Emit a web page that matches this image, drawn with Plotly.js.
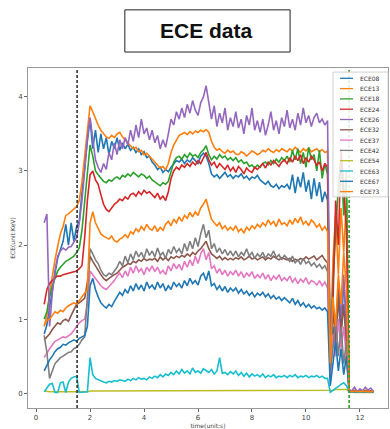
<!DOCTYPE html>
<html><head><meta charset="utf-8">
<script src="https://cdn.plot.ly/plotly-3.0.1.min.js"></script>
<style>html,body{margin:0;padding:0;background:#fff;} #chart{width:390px;height:429px;}</style>
</head><body><div id="chart"></div>
<script>
const time = [0.3,0.4,0.5,0.6,0.7,0.8,0.9,1.0,1.1,1.2,
1.3,1.4,1.5,1.6,1.7,1.8,1.9,2.0,2.1,2.2,
2.3,2.4,2.5,2.6,2.7,2.8,2.9,3.0,3.1,3.2,
3.3,3.4,3.5,3.6,3.7,3.8,3.9,4.0,4.1,4.2,
4.3,4.4,4.5,4.6,4.7,4.8,4.9,5.0,5.1,5.2,
5.3,5.4,5.5,5.6,5.7,5.8,5.9,6.0,6.1,6.2,
6.3,6.4,6.5,6.6,6.7,6.8,6.9,7.0,7.1,7.2,
7.3,7.4,7.5,7.6,7.7,7.8,7.9,8.0,8.1,8.2,
8.3,8.4,8.5,8.6,8.7,8.8,8.9,9.0,9.1,9.2,
9.3,9.4,9.5,9.6,9.7,9.8,9.9,10.0,10.1,10.2,
10.3,10.4,10.5,10.6,10.7,10.8,10.9,11.0,11.1,11.2,
11.3,11.4,11.5,11.6,11.7,11.8,11.9,12.0,12.1,12.2,
12.3,12.4,12.5];

const ECE08 = [0.8,0.92,1.15,1.4,1.62,1.82,1.95,2.05,2.28,2.0,
2.3,2.05,2.25,2.32,2.7,3.1,3.4,3.7,3.3,3.55,
3.25,3.5,3.3,3.45,3.22,3.4,3.3,3.45,3.28,3.38,
3.3,3.36,3.28,3.32,3.25,3.3,3.22,3.26,3.18,3.2,
3.12,3.08,3.02,3.05,2.98,3.02,2.99,3.05,3.1,3.14,
3.12,3.16,3.1,3.15,3.12,3.18,3.14,3.1,3.2,3.24,
3.2,3.1,2.96,2.92,2.95,2.9,2.94,2.98,2.92,2.95,
2.9,2.94,2.92,2.96,2.9,2.93,2.88,2.92,2.9,2.94,
2.88,2.85,2.82,2.86,2.8,2.78,2.82,2.76,2.8,2.78,
2.82,2.75,2.95,2.7,2.92,2.78,2.98,2.72,2.88,2.62,
2.9,2.66,2.85,2.58,2.72,2.6,0.3,0.9,0.5,1.3,
0.8,1.5,1.0,0.02,0.02,0.03,0.02,0.02,0.03,0.02,
0.02,0.03,0.02];

const ECE13 = [0.9,1.05,1.35,1.6,1.8,1.98,2.15,2.25,2.4,2.42,
2.45,2.48,2.52,2.6,2.85,3.2,3.55,3.88,3.8,3.7,
3.62,3.55,3.5,3.46,3.44,3.48,3.45,3.5,3.52,3.46,
3.42,3.38,3.35,3.3,3.32,3.26,3.28,3.22,3.24,3.2,
3.15,3.12,3.08,3.04,3.06,3.02,3.1,3.25,3.35,3.42,
3.48,3.5,3.52,3.49,3.53,3.5,3.54,3.52,3.55,3.53,
3.56,3.52,3.4,3.32,3.28,3.3,3.26,3.24,3.28,3.25,
3.27,3.23,3.22,3.26,3.24,3.2,3.23,3.27,3.25,3.22,
3.24,3.28,3.26,3.3,3.27,3.25,3.29,3.26,3.3,3.28,
3.26,3.3,3.27,3.32,3.28,3.25,3.3,3.27,3.31,3.26,
3.28,3.3,3.26,3.29,3.25,3.27,0.5,1.8,2.4,1.6,
2.5,1.9,2.6,0.03,0.02,0.04,0.02,0.03,0.02,0.04,
0.03,0.02,0.03];

const ECE18 = [1.0,1.1,1.3,1.45,1.55,1.65,1.7,1.74,1.78,1.8,
1.83,1.85,1.9,1.96,2.2,2.6,3.0,3.35,3.2,3.0,
2.95,2.9,2.86,2.84,2.88,2.86,2.9,2.92,2.89,2.94,
2.92,2.96,2.93,2.98,2.95,2.92,2.96,2.94,2.9,2.93,
2.88,2.85,2.82,2.8,2.84,2.82,2.86,3.0,3.12,3.18,
3.2,3.16,3.22,3.18,3.24,3.2,3.22,3.18,3.25,3.28,
3.34,3.22,3.15,3.2,3.16,3.22,3.18,3.2,3.15,3.18,
3.14,3.18,3.12,3.15,3.1,3.12,3.06,3.08,3.04,3.08,
3.05,3.1,3.12,3.08,3.14,3.1,3.16,3.12,3.18,3.14,
3.2,3.12,3.28,3.15,3.3,3.1,3.25,3.05,3.32,3.15,
3.22,3.0,3.28,2.9,3.1,2.95,0.4,1.5,2.2,2.8,
3.2,2.4,3.0,0.03,0.02,0.03,0.02,0.03,0.02,0.03,
0.02,0.03,0.02];

const ECE24 = [1.2,1.4,1.48,1.52,1.56,1.58,1.58,1.6,1.61,1.62,
1.62,1.63,1.65,1.68,1.72,2.1,2.6,2.95,3.0,2.88,
2.82,2.68,2.55,2.48,2.45,2.5,2.55,2.58,2.62,2.6,
2.65,2.62,2.68,2.7,2.66,2.72,2.68,2.74,2.7,2.72,
2.68,2.64,2.7,2.62,2.66,2.6,2.72,2.9,3.0,3.05,
3.02,3.08,3.05,3.1,3.06,3.12,3.08,3.14,3.1,3.18,
3.25,3.15,3.08,3.12,3.04,3.1,3.06,3.02,3.08,3.0,
3.05,2.98,3.06,3.02,2.96,3.04,3.0,2.98,3.05,3.02,
3.06,3.1,3.04,3.12,3.08,3.14,3.1,3.06,3.12,3.15,
3.1,3.18,3.12,3.2,3.14,3.22,3.1,3.18,3.12,3.2,
3.15,3.08,3.12,3.0,3.1,3.05,0.5,1.2,2.6,2.0,
3.3,2.8,2.2,0.03,0.02,0.03,0.02,0.02,0.03,0.02,
0.02,0.03,0.02];

const ECE26 = [2.3,2.42,0.9,1.35,1.65,1.85,1.92,1.96,1.93,1.97,
1.98,2.05,2.1,2.3,2.6,3.0,3.45,3.72,3.4,3.15,
3.05,2.98,3.1,3.02,3.25,3.15,3.38,3.22,3.42,3.3,
3.45,3.35,3.55,3.4,3.62,3.45,3.7,3.5,3.58,3.42,
3.55,3.38,3.48,3.3,3.42,3.32,3.5,3.7,3.62,3.8,
3.7,3.85,3.72,3.9,3.78,3.95,3.82,3.75,3.92,4.0,
4.15,3.95,3.7,3.88,3.6,3.78,3.65,3.85,3.55,3.72,
3.6,3.8,3.58,3.7,3.5,3.75,3.62,3.85,3.55,3.68,
3.52,3.7,3.48,3.62,3.8,3.55,3.68,3.5,3.72,3.6,
3.82,3.58,3.7,3.55,3.78,3.62,3.85,3.65,3.75,3.6,
3.72,3.78,3.65,3.7,3.62,3.68,0.6,1.2,0.8,1.5,
1.0,1.6,0.9,0.05,0.03,0.08,0.02,0.06,0.03,0.08,
0.04,0.07,0.03];

const ECE32 = [0.72,0.76,0.8,0.86,0.9,0.95,0.93,0.98,1.0,0.97,
1.05,1.12,1.2,1.22,1.25,1.28,1.5,1.85,1.78,1.72,
1.65,1.6,1.55,1.52,1.55,1.58,1.6,1.62,1.66,1.7,
1.72,1.75,1.74,1.78,1.76,1.8,1.78,1.82,1.79,1.81,
1.8,1.82,1.78,1.84,1.8,1.83,1.79,1.84,1.82,1.85,
1.83,1.86,1.84,1.88,1.85,1.9,1.87,1.92,1.95,2.0,
2.05,1.95,1.88,1.85,1.82,1.85,1.8,1.83,1.8,1.82,
1.8,1.83,1.81,1.84,1.8,1.82,1.85,1.81,1.83,1.8,
1.82,1.84,1.8,1.83,1.81,1.85,1.82,1.8,1.83,1.81,
1.8,1.82,1.78,1.81,1.79,1.82,1.8,1.84,1.81,1.83,
1.85,1.8,1.83,1.86,1.8,1.76,0.5,1.1,0.7,1.4,
0.8,1.2,0.6,0.02,0.02,0.02,0.02,0.02,0.02,0.02,
0.02,0.02,0.02];

const ECE37 = [0.48,0.55,0.6,0.65,0.7,0.72,0.74,0.76,0.75,0.78,
0.8,0.85,0.9,0.95,0.98,1.0,1.2,1.65,1.6,1.55,
1.5,1.45,1.42,1.4,1.44,1.48,1.52,1.58,1.62,1.56,
1.65,1.58,1.7,1.62,1.72,1.64,1.68,1.6,1.7,1.65,
1.72,1.64,1.7,1.62,1.66,1.6,1.72,1.65,1.75,1.68,
1.74,1.66,1.78,1.7,1.8,1.72,1.85,1.75,1.88,1.95,
1.8,1.9,1.68,1.72,1.62,1.68,1.6,1.66,1.58,1.64,
1.6,1.66,1.58,1.64,1.56,1.62,1.58,1.64,1.55,1.6,
1.56,1.62,1.54,1.6,1.52,1.58,1.54,1.6,1.52,1.56,
1.52,1.58,1.5,1.55,1.48,1.54,1.5,1.56,1.47,1.52,
1.5,1.46,1.52,1.45,1.5,1.42,0.2,0.8,0.5,1.0,
0.6,0.9,0.4,0.02,0.02,0.02,0.02,0.02,0.02,0.02,
0.02,0.02,0.02];

const ECE42 = [0.78,0.55,0.2,0.3,0.4,0.44,0.48,0.5,0.53,0.55,
0.56,0.6,0.62,0.66,0.72,0.76,1.3,1.95,1.88,1.8,
1.75,1.66,1.6,1.58,1.62,1.6,1.65,1.7,1.78,1.72,
1.85,1.76,1.88,1.8,1.92,1.84,1.9,1.82,1.95,1.86,
1.92,1.84,1.96,1.86,1.9,1.82,1.94,1.88,1.98,1.9,
1.95,1.88,2.02,1.92,2.05,1.95,2.1,1.98,2.15,2.28,
2.1,2.2,1.95,2.02,1.9,1.96,1.88,1.94,1.86,1.92,
1.85,1.92,1.84,1.9,1.86,1.95,1.85,1.9,1.82,1.88,
1.84,1.9,1.82,1.88,1.85,1.92,1.83,1.87,1.8,1.86,
1.82,1.78,1.85,1.76,1.8,1.74,1.82,1.75,1.78,1.72,
1.76,1.7,1.74,1.68,1.72,1.64,0.3,0.6,1.0,0.5,
0.9,0.4,0.7,0.02,0.02,0.02,0.02,0.02,0.02,0.02,
0.02,0.02,0.02];

const ECE54 = [0.03,0.02,0.02,0.02,0.02,0.01,0.01,0.01,0.01,0.01,
0.01,0.01,0.01,0.01,0.01,0.02,0.02,0.03,0.03,0.03,
0.03,0.03,0.03,0.03,0.03,0.03,0.03,0.03,0.03,0.03,
0.03,0.03,0.03,0.03,0.03,0.03,0.03,0.03,0.03,0.03,
0.03,0.03,0.03,0.03,0.03,0.03,0.03,0.03,0.03,0.03,
0.03,0.03,0.03,0.03,0.03,0.03,0.03,0.03,0.03,0.03,
0.03,0.03,0.03,0.03,0.03,0.03,0.03,0.03,0.03,0.03,
0.03,0.03,0.03,0.03,0.03,0.03,0.03,0.03,0.03,0.03,
0.04,0.04,0.04,0.04,0.04,0.04,0.04,0.04,0.04,0.04,
0.04,0.04,0.04,0.04,0.04,0.04,0.04,0.04,0.04,0.04,
0.04,0.04,0.04,0.04,0.04,0.04,0.03,0.04,0.05,0.05,
0.06,0.06,0.05,0.02,0.01,0.01,0.01,0.01,0.01,0.01,
0.01,0.01,0.01];

const ECE63 = [0.02,0.07,0.12,0.13,0.01,0.01,0.14,0.15,0.01,0.15,
0.2,0.22,0.23,0.01,0.01,0.01,0.02,0.48,0.25,0.2,
0.18,0.16,0.15,0.14,0.16,0.15,0.17,0.16,0.18,0.17,
0.16,0.19,0.17,0.2,0.18,0.21,0.19,0.2,0.18,0.22,
0.2,0.23,0.21,0.25,0.22,0.26,0.24,0.28,0.25,0.3,
0.26,0.32,0.27,0.3,0.26,0.34,0.28,0.3,0.27,0.33,
0.3,0.28,0.32,0.26,0.3,0.48,0.27,0.28,0.25,0.29,
0.26,0.3,0.24,0.28,0.23,0.27,0.22,0.26,0.23,0.25,
0.22,0.26,0.21,0.24,0.22,0.25,0.21,0.23,0.22,0.24,
0.21,0.24,0.22,0.25,0.21,0.23,0.22,0.24,0.21,0.23,
0.22,0.24,0.21,0.23,0.2,0.2,0.01,0.04,0.07,0.09,
0.12,0.14,0.1,0.02,0.02,0.02,0.02,0.02,0.02,0.02,
0.02,0.02,0.02];

const ECE67 = [0.3,0.38,0.45,0.5,0.56,0.6,0.62,0.66,0.65,0.68,
0.7,0.72,0.7,0.74,0.76,0.78,0.9,1.45,1.55,1.4,
1.3,1.22,1.18,1.15,1.2,1.17,1.24,1.3,1.36,1.32,
1.4,1.35,1.45,1.38,1.48,1.4,1.46,1.38,1.5,1.42,
1.46,1.4,1.5,1.42,1.48,1.38,1.45,1.4,1.5,1.44,
1.48,1.42,1.52,1.45,1.55,1.48,1.52,1.46,1.58,1.62,
1.52,1.65,1.45,1.48,1.4,1.45,1.38,1.44,1.36,1.42,
1.38,1.42,1.35,1.4,1.34,1.38,1.32,1.36,1.3,1.35,
1.32,1.36,1.3,1.34,1.28,1.32,1.27,1.3,1.25,1.29,
1.26,1.22,1.28,1.2,1.25,1.18,1.22,1.16,1.2,1.15,
1.18,1.14,1.16,1.12,1.15,1.1,0.1,0.4,0.7,0.3,
0.6,0.25,0.5,0.02,0.02,0.02,0.02,0.02,0.02,0.02,
0.02,0.02,0.02];

const ECE73 = [0.92,0.98,1.0,1.05,1.1,1.08,1.12,1.1,1.15,1.18,
1.2,1.22,1.2,1.25,1.3,1.35,1.4,2.3,2.45,2.3,
2.22,2.15,2.12,2.1,2.08,2.12,2.06,2.04,2.08,2.1,
2.14,2.1,2.18,2.15,2.22,2.18,2.25,2.2,2.28,2.22,
2.2,2.26,2.18,2.24,2.2,2.28,2.32,2.26,2.35,2.3,
2.38,2.32,2.4,2.36,2.44,2.38,2.45,2.4,2.5,2.55,
2.62,2.48,2.35,2.3,2.26,2.3,2.22,2.26,2.2,2.24,
2.2,2.26,2.18,2.22,2.16,2.24,2.2,2.26,2.22,2.28,
2.24,2.3,2.26,2.34,2.28,2.32,2.25,2.35,2.28,2.3,
2.26,2.34,2.28,2.36,2.3,2.38,2.28,2.32,2.26,2.34,
2.3,2.24,2.28,2.2,2.25,2.18,0.4,1.3,0.9,1.6,
1.2,1.9,1.4,0.03,0.02,0.03,0.02,0.02,0.03,0.02,
0.02,0.02,0.03];

const seriesNames = ['ECE08','ECE13','ECE18','ECE24','ECE26','ECE32','ECE37','ECE42','ECE54','ECE63','ECE67','ECE73'];
const seriesValues = [ECE08,ECE13,ECE18,ECE24,ECE26,ECE32,ECE37,ECE42,ECE54,ECE63,ECE67,ECE73];
const seriesColors = ['#1f77b4','#ff7f0e','#2ca02c','#d62728','#9467bd','#8c564b','#e377c2','#7f7f7f','#bcbd22','#17becf','#1f77b4','#ff7f0e'];
const xTicks = [0,2,4,6,8,10,12];
const yTicks = [0,1,2,3,4];
const markerTimes = [1.52, 11.6];
const markerColors = ['#333333', '#2ca02c'];
const chartTitle = 'ECE data';
const xTitle = 'time(unit:s)';
const yTitle = 'ECE(unit:KeV)';

const traces = seriesNames.map((n, i) => ({
  type: 'scatter', mode: 'lines', name: n,
  x: time, y: seriesValues[i],
  line: {color: seriesColors[i], width: 1.6},
  showlegend: false
}));

const shapes = [];
const annotations = [];
markerTimes.forEach((t, i) => {
  shapes.push({type: 'line', xref: 'x', yref: 'paper', x0: t, x1: t, y0: 0, y1: 1,
    line: {color: markerColors[i], width: 1.6, dash: '3px,2px'}, layer: 'above'});
});
// title box
shapes.push({type: 'rect', xref: 'paper', yref: 'paper', x0: 0.269, x1: 0.728, y0: 1.047, y1: 1.171,
  line: {color: '#222', width: 1}, fillcolor: '#fff'});
annotations.push({xref: 'paper', yref: 'paper', x: 0.497, y: 1.109, xanchor: 'center', yanchor: 'middle',
  text: '<b>' + chartTitle + '</b>', showarrow: false,
  font: {family: 'Liberation Sans, Arial, sans-serif', size: 21, color: '#111'}});
// legend
const legTop = 0.988, legBottom = 0.621, legLeft = 0.8472, legRight = 1.0;
shapes.push({type: 'rect', xref: 'paper', yref: 'paper', x0: legLeft, x1: legRight, y0: legBottom, y1: legTop,
  line: {color: '#d0d0d0', width: 1}, fillcolor: 'rgba(255,255,255,0.85)', layer: 'above'});
const rowH = 10.3 / 340;
const firstY = (408 - 78.3) / 340;
seriesNames.forEach((n, i) => {
  const yy = firstY - i * rowH;
  shapes.push({type: 'line', xref: 'paper', yref: 'paper', x0: 0.8667, x1: 0.9028, y0: yy, y1: yy,
    line: {color: seriesColors[i], width: 1.3}, layer: 'above'});
  annotations.push({xref: 'paper', yref: 'paper', x: 0.9167, y: yy, xanchor: 'left', yanchor: 'middle',
    text: n, showarrow: false, font: {family: 'DejaVu Sans', size: 6, color: '#333'}});
});

const axisCommon = {
  showline: true, mirror: true, linecolor: '#999', linewidth: 1,
  ticks: 'outside', ticklen: 3, tickcolor: '#666', tickwidth: 1,
  showgrid: false, zeroline: false,
  tickfont: {family: 'DejaVu Sans', size: 7, color: '#444'}
};

const layout = {
  width: 390, height: 429,
  margin: {l: 28, r: 2, t: 68, b: 21},
  paper_bgcolor: '#fff', plot_bgcolor: '#fff',
  showlegend: false,
  xaxis: Object.assign({}, axisCommon, {range: [-0.3, 13.04], tickmode: 'array', tickvals: xTicks,
    title: {text: xTitle, font: {family: 'DejaVu Sans', size: 6, color: '#444'}, standoff: 2}}),
  yaxis: Object.assign({}, axisCommon, {range: [-0.2, 4.39], tickmode: 'array', tickvals: yTicks,
    title: {text: yTitle, font: {family: 'DejaVu Sans', size: 6, color: '#444'}, standoff: 2}}),
  shapes: shapes,
  annotations: annotations
};

Plotly.newPlot('chart', traces, layout, {displayModeBar: false, staticPlot: true});
</script>
</body></html>
